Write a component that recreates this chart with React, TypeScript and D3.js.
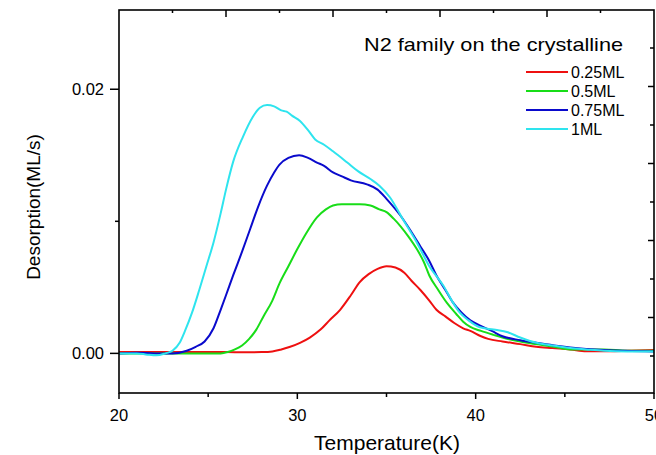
import * as d3 from "d3";

// N2 desorption traces: [temperature K, rate ML/s]
const series025ML: [number, number][] = [
  [20, 0.0001], [22, 0.0001], [24, 0.0001], [26, 0.0001], [27, 0.00008], [28, 0.0001],
  [28.6, 0.00015], [29.1, 0.0003], [29.6, 0.0005], [30.15, 0.0008], [30.7, 0.0012],
  [31.3, 0.0018], [31.8, 0.0025], [32.4, 0.0033], [33.0, 0.0044], [33.5, 0.0054],
  [34.0, 0.006], [34.5, 0.0064], [35.0, 0.0066], [35.5, 0.0065], [36.0, 0.0061],
  [36.4, 0.0055], [36.9, 0.0048], [37.4, 0.004], [37.8, 0.0033], [38.3, 0.0028],
  [38.8, 0.0023], [39.3, 0.0019], [39.7, 0.0017], [40.3, 0.0013], [40.7, 0.0011],
  [41.5, 0.0009], [42.5, 0.0007], [43.4, 0.0005], [44.3, 0.0004], [45.3, 0.0003],
  [46.2, 0.00017], [47.5, 0.00017], [48.5, 0.0002], [50, 0.00025],
];

const series05ML: [number, number][] = [
  [20, 0], [22, 0], [24, 0], [25.7, 0], [26.1, 0.0001], [26.5, 0.0003], [26.9, 0.0006],
  [27.3, 0.0011], [27.7, 0.0018], [28.1, 0.0028], [28.6, 0.004], [29.0, 0.0053],
  [29.5, 0.0066], [30.0, 0.0079], [30.5, 0.0091], [31.1, 0.0103], [31.6, 0.0109],
  [32.0, 0.0112], [32.5, 0.0113], [33.0, 0.0113], [33.5, 0.0113], [34.1, 0.0112],
  [34.6, 0.0109], [35.0, 0.0107], [35.4, 0.0102], [35.8, 0.0096], [36.2, 0.0089],
  [36.7, 0.0079], [37.1, 0.0069], [37.4, 0.0059], [37.9, 0.0048], [38.4, 0.0038],
  [38.9, 0.003], [39.3, 0.0024], [39.7, 0.002], [40.3, 0.0017], [41.0, 0.0014],
  [41.5, 0.0012], [42.5, 0.0009], [43.4, 0.0007], [44.4, 0.0005], [45.3, 0.0003],
  [47.2, 0.0003], [48.5, 0.0002], [50, 0.0002],
];

const series075ML: [number, number][] = [
  [20, 0], [21, 0.00005], [22, 0], [23, 0], [23.8, 0.0002], [24.3, 0.0005], [24.8, 0.0009],
  [25.3, 0.0019], [25.7, 0.0033], [26.0, 0.0044], [26.4, 0.0059], [26.9, 0.0077],
  [27.35, 0.0094], [27.8, 0.0111], [28.3, 0.0127], [28.7, 0.0137], [29.0, 0.0143],
  [29.5, 0.0148], [30.1, 0.015], [30.6, 0.0148], [31.1, 0.01445], [31.5, 0.0142],
  [32.0, 0.0137], [32.5, 0.0134], [33.0, 0.0131], [33.9, 0.0128], [34.5, 0.0124],
  [35.0, 0.0117], [35.8, 0.0104], [36.3, 0.0094], [36.9, 0.0081], [37.4, 0.007],
  [37.8, 0.0059], [38.3, 0.0048], [38.7, 0.0039], [39.2, 0.0031], [39.7, 0.0025],
  [40.25, 0.0021], [40.9, 0.0017], [41.5, 0.0013], [42.5, 0.001], [43.4, 0.0008],
  [44.4, 0.0006], [45.3, 0.00045], [47.2, 0.00025], [50, 0.00015],
];

const series1ML: [number, number][] = [
  [20, 0], [21, 0], [21.6, -0.0001], [22.1, -0.00015], [22.6, 0], [23.0, 0.0002],
  [23.4, 0.0008], [23.7, 0.0017], [24.1, 0.0031], [24.5, 0.0048], [24.9, 0.0066],
  [25.3, 0.0084], [25.7, 0.0106], [26.0, 0.0124], [26.4, 0.0145], [26.95, 0.0164],
  [27.5, 0.0179], [27.9, 0.0186], [28.3, 0.0188], [28.7, 0.0187], [29.1, 0.0184],
  [29.4, 0.0183], [29.7, 0.018], [30.15, 0.0176], [30.6, 0.0169], [31.0, 0.0162],
  [31.5, 0.0158], [32.0, 0.0153], [32.8, 0.01445], [33.4, 0.0138], [34.1, 0.0132],
  [34.6, 0.0127], [35.2, 0.0118], [35.9, 0.0102], [36.7, 0.0084], [37.4, 0.0066],
  [38.2, 0.0051], [38.7, 0.0039], [39.1, 0.0031], [39.6, 0.0025], [40.2, 0.002],
  [41.0, 0.0018], [41.8, 0.0016], [42.5, 0.0012], [43.4, 0.0008], [44.3, 0.0006],
  [45.3, 0.0004], [46.2, 0.0003], [47.2, 0.0002], [48.5, 0.00015], [50, 0.00015],
];

const seriesNames = ["0.25ML", "0.5ML", "0.75ML", "1ML"];
const seriesData = [series025ML, series05ML, series075ML, series1ML];
const seriesColors = ["#ee1010", "#18dd18", "#0a0acc", "#2ee4ee"];

const xMajorTicks = [20, 30, 40, 50];
const xMinorTicks = [25, 35, 45];
const yMajorTicks = [0, 0.02];
const yMinorTicks = [0.01];
// top and right frame carry their own tick marks (no labels)
const topMajorTicks = [26, 32, 38, 44];
const topMinorTicks = [23, 29, 35, 41, 47];
const rightMajorTicks = [1, 3, 5, 7];
const rightMinorTicks = [0, 2, 4, 6, 8];

const W = 656;
const H = 455;
const left = 119;
const right = 654;
const top = 10;
const bottom = 393;
const font = "'Liberation Sans', Arial, Helvetica, sans-serif";

export default function App() {
  const x = d3.scaleLinear().domain([20, 50]).range([left, right]);
  const y = d3.scaleLinear().domain([-0.003, 0.026]).range([bottom, top]);
  const yRight = d3.scaleLinear().domain([0, 8]).range([356, 48]);

  const line = d3
    .line<[number, number]>()
    .x((d) => x(d[0]))
    .y((d) => y(d[1]))
    .curve(d3.curveMonotoneX);

  return (
    <svg
      width={W}
      height={H}
      style={{ position: "absolute", left: 0, top: 0, background: "#fff" }}
      fontFamily={font}
    >
      <defs>
        <clipPath id="plot">
          <rect x={left} y={top} width={right - left} height={bottom - top} />
        </clipPath>
      </defs>

      <g clipPath="url(#plot)">
        {seriesData.map((d, i) => (
          <path
            key={seriesNames[i]}
            d={line(d) ?? ""}
            fill="none"
            stroke={seriesColors[i]}
            strokeWidth={2}
            strokeLinejoin="round"
          />
        ))}
      </g>

      <rect
        x={left}
        y={top}
        width={right - left}
        height={bottom - top}
        fill="none"
        stroke="#000"
        strokeWidth={1.6}
      />

      {/* bottom axis */}
      {xMajorTicks.map((t) => (
        <g key={"xb" + t}>
          <line x1={x(t)} x2={x(t)} y1={bottom} y2={bottom + 6} stroke="#000" strokeWidth={1.5} />
          <text x={x(t)} y={421} textAnchor="middle" fontSize={16.5}>
            {t}
          </text>
        </g>
      ))}
      {xMinorTicks.map((t) => (
        <line key={"xm" + t} x1={x(t)} x2={x(t)} y1={bottom} y2={bottom + 4} stroke="#000" strokeWidth={1.5} />
      ))}

      {/* left axis */}
      {yMajorTicks.map((t) => (
        <g key={"yl" + t}>
          <line x1={left - 9} x2={left} y1={y(t)} y2={y(t)} stroke="#000" strokeWidth={1.5} />
          <text x={104} y={y(t)} dy="0.36em" textAnchor="end" fontSize={16.5}>
            {d3.format(".2f")(t)}
          </text>
        </g>
      ))}
      {yMinorTicks.map((t) => (
        <line key={"ym" + t} x1={left - 4} x2={left} y1={y(t)} y2={y(t)} stroke="#000" strokeWidth={1.5} />
      ))}

      {/* top ticks */}
      {topMajorTicks.map((t) => (
        <line key={"tt" + t} x1={x(t)} x2={x(t)} y1={top} y2={top + 7} stroke="#000" strokeWidth={1.5} />
      ))}
      {topMinorTicks.map((t) => (
        <line key={"tm" + t} x1={x(t)} x2={x(t)} y1={top} y2={top + 3} stroke="#000" strokeWidth={1.5} />
      ))}

      {/* right ticks */}
      {rightMajorTicks.map((t) => (
        <line key={"rt" + t} x1={right - 6} x2={right} y1={yRight(t)} y2={yRight(t)} stroke="#000" strokeWidth={1.5} />
      ))}
      {rightMinorTicks.map((t) => (
        <line key={"rm" + t} x1={right - 4} x2={right} y1={yRight(t)} y2={yRight(t)} stroke="#000" strokeWidth={1.5} />
      ))}

      {/* axis titles */}
      <text x={387} y={450} textAnchor="middle" fontSize={21}>
        Temperature(K)
      </text>
      <text transform="translate(39.5,207) rotate(-90)" textAnchor="middle" fontSize={19}>
        Desorption(ML/s)
      </text>

      {/* legend */}
      <text x={364} y={51} fontSize={18.5} textLength={259} lengthAdjust="spacingAndGlyphs">
        N2 family on the crystalline
      </text>
      {seriesNames.map((name, i) => {
        const ly = 72 + i * 19;
        return (
          <g key={"lg" + name}>
            <line x1={526} x2={568} y1={ly} y2={ly} stroke={seriesColors[i]} strokeWidth={2} />
            <text x={571} y={ly + 5.5} fontSize={16}>
              {name}
            </text>
          </g>
        );
      })}
    </svg>
  );
}
